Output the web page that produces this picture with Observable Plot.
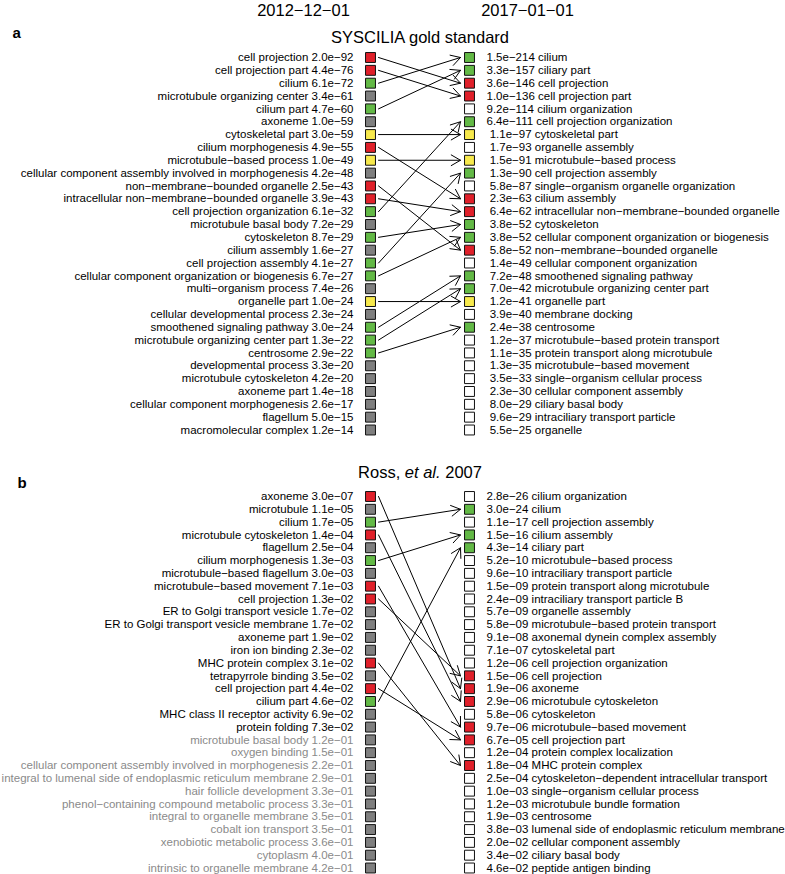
<!DOCTYPE html>
<html><head><meta charset="utf-8">
<script src="https://cdn.jsdelivr.net/npm/d3@7"></script>
<script src="https://cdn.jsdelivr.net/npm/@observablehq/plot@0.6"></script>
<style>
html,body{margin:0;padding:0;background:#fff;}
#chart{width:785px;}
#chart svg{display:block;}
#chart svg text{white-space:pre;}
</style></head><body><div id="chart"></div>
<script>
// ---------- Panel a : SYSCILIA gold standard ----------
const aLeftTerm = ["cell projection","cell projection part","cilium","microtubule organizing center","cilium part","axoneme","cytoskeletal part","cilium morphogenesis","microtubule−based process","cellular component assembly involved in morphogenesis","non−membrane−bounded organelle","intracellular non−membrane−bounded organelle","cell projection organization","microtubule basal body","cytoskeleton","cilium assembly","cell projection assembly","cellular component organization or biogenesis","multi−organism process","organelle part","cellular developmental process","smoothened signaling pathway","microtubule organizing center part","centrosome","developmental process","microtubule cytoskeleton","axoneme part","cellular component morphogenesis","flagellum","macromolecular complex"];
const aLeftP = ["2.0e−92","4.4e−76","6.1e−72","3.4e−61","4.7e−60","1.0e−59","3.0e−59","4.9e−55","1.0e−49","4.2e−48","2.5e−43","3.9e−43","6.1e−32","7.2e−29","8.7e−29","1.6e−27","4.1e−27","6.7e−27","7.4e−26","1.0e−24","2.3e−24","3.0e−24","1.3e−22","2.9e−22","3.3e−20","4.2e−20","1.4e−18","2.6e−17","5.0e−15","1.2e−14"];
const aRightTerm = ["cilium","ciliary part","cell projection","cell projection part","cilium organization","cell projection organization","cytoskeletal part","organelle assembly","microtubule−based process","cell projection assembly","single−organism organelle organization","cilium assembly","intracellular non−membrane−bounded organelle","cytoskeleton","cellular component organization or biogenesis","non−membrane−bounded organelle","cellular component organization","smoothened signaling pathway","microtubule organizing center part","organelle part","membrane docking","centrosome","microtubule−based protein transport","protein transport along microtubule","microtubule−based movement","single−organism cellular process","cellular component assembly","ciliary basal body","intraciliary transport particle","organelle"];
const aRightP = ["1.5e−214","3.3e−157","3.6e−146","1.0e−136","9.2e−114","6.4e−111","1.1e−97","1.7e−93","1.5e−91","1.3e−90","5.8e−87","2.3e−63","6.4e−62","3.8e−52","3.8e−52","5.8e−52","1.4e−49","7.2e−48","7.0e−42","1.2e−41","3.9e−40","2.4e−38","1.2e−37","1.1e−35","1.3e−35","3.5e−33","2.3e−30","8.0e−29","9.6e−29","5.5e−25"];
const aLinks = [
  ["cell projection","cell projection"],
  ["cell projection part","cell projection part"],
  ["cilium","cilium"],
  ["cilium part","ciliary part"],
  ["cytoskeletal part","cytoskeletal part"],
  ["cilium morphogenesis","cilium assembly"],
  ["microtubule−based process","microtubule−based process"],
  ["non−membrane−bounded organelle","non−membrane−bounded organelle"],
  ["intracellular non−membrane−bounded organelle","intracellular non−membrane−bounded organelle"],
  ["cell projection organization","cell projection organization"],
  ["cytoskeleton","cytoskeleton"],
  ["cell projection assembly","cell projection assembly"],
  ["cellular component organization or biogenesis","cellular component organization or biogenesis"],
  ["organelle part","organelle part"],
  ["smoothened signaling pathway","smoothened signaling pathway"],
  ["microtubule organizing center part","microtubule organizing center part"],
  ["centrosome","centrosome"]
];

// ---------- Panel b : Ross et al. 2007 ----------
const bLeftTerm = ["axoneme","microtubule","cilium","microtubule cytoskeleton","flagellum","cilium morphogenesis","microtubule−based flagellum","microtubule−based movement","cell projection","ER to Golgi transport vesicle","ER to Golgi transport vesicle membrane","axoneme part","iron ion binding","MHC protein complex","tetrapyrrole binding","cell projection part","cilium part","MHC class II receptor activity","protein folding","microtubule basal body","oxygen binding","cellular component assembly involved in morphogenesis","integral to lumenal side of endoplasmic reticulum membrane","hair follicle development","phenol−containing compound metabolic process","integral to organelle membrane","cobalt ion transport","xenobiotic metabolic process","cytoplasm","intrinsic to organelle membrane"];
const bLeftP = ["3.0e−07","1.1e−05","1.7e−05","1.4e−04","2.5e−04","1.3e−03","3.0e−03","7.1e−03","1.3e−02","1.7e−02","1.7e−02","1.9e−02","2.3e−02","3.1e−02","3.5e−02","4.4e−02","4.6e−02","6.9e−02","7.3e−02","1.2e−01","1.5e−01","2.2e−01","2.9e−01","3.3e−01","3.3e−01","3.5e−01","3.5e−01","3.6e−01","4.0e−01","4.2e−01"];
const bRightTerm = ["cilium organization","cilium","cell projection assembly","cilium assembly","ciliary part","microtubule−based process","intraciliary transport particle","protein transport along microtubule","intraciliary transport particle B","organelle assembly","microtubule−based protein transport","axonemal dynein complex assembly","cytoskeletal part","cell projection organization","cell projection","axoneme","microtubule cytoskeleton","cytoskeleton","microtubule−based movement","cell projection part","protein complex localization","MHC protein complex","cytoskeleton−dependent intracellular transport","single−organism cellular process","microtubule bundle formation","centrosome","lumenal side of endoplasmic reticulum membrane","cellular component assembly","ciliary basal body","peptide antigen binding"];
const bRightP = ["2.8e−26","3.0e−24","1.1e−17","1.5e−16","4.3e−14","5.2e−10","9.6e−10","1.5e−09","2.4e−09","5.7e−09","5.8e−09","9.1e−08","7.1e−07","1.2e−06","1.5e−06","1.9e−06","2.9e−06","5.8e−06","9.7e−06","6.7e−05","1.2e−04","1.8e−04","2.5e−04","1.0e−03","1.2e−03","1.9e−03","3.8e−03","2.0e−02","3.4e−02","4.6e−02"];
const bLinks = [
  ["axoneme","axoneme"],
  ["cilium","cilium"],
  ["microtubule cytoskeleton","microtubule cytoskeleton"],
  ["cilium morphogenesis","cilium assembly"],
  ["microtubule−based movement","microtubule−based movement"],
  ["cell projection","cell projection"],
  ["MHC protein complex","MHC protein complex"],
  ["cell projection part","cell projection part"],
  ["cilium part","ciliary part"]
];

const dates = ["2012−12−01","2017−01−01"];
const titles = ["SYSCILIA gold standard","Ross, et al. 2007"];
const letters = ["a","b"];

const FONT = "'Liberation Sans', Arial, Helvetica, sans-serif";
const statusColors = {type:"ordinal", domain:["up","down","same","gone","new"], range:["#63b946","#e0202a","#f7e94c","#7f7f7f","#ffffff"]};
const num = s => +s.replace("−","-");

function panel({leftTerm,leftP,rightTerm,rightP,links,title,letter,height,yRange,titleDy,letterDx,letterDy,withDates}) {
  const L = links.map(([l,r]) => ({from: leftTerm.indexOf(l)+1, to: rightTerm.indexOf(r)+1}));
  const st = k => k.to < k.from ? "up" : k.to > k.from ? "down" : "same";
  const left = leftTerm.map((t,i) => {
    const k = L.find(d => d.from === i+1);
    return {rank:i+1, label:`${t} ${leftP[i]}`, status: k ? st(k) : "gone", faded: num(leftP[i]) >= 0.1};
  });
  const w = d3.max(rightP, s => s.length);
  const right = rightTerm.map((t,i) => {
    const k = L.find(d => d.to === i+1);
    return {rank:i+1, label:`${rightP[i].padStart(w," ")} ${t}`, status: k ? st(k) : "new"};
  });
  const marks = [
    Plot.arrow(L, {x1:0.081, x2:0.909, y1:"from", y2:"to", stroke:"black", strokeWidth:1, headLength:16, headAngle:60}),
    Plot.dot(left, {x:0, y:"rank", symbol:"square", r:5.6, fill:"status", stroke:"#111", strokeWidth:1}),
    Plot.dot(right, {x:1, y:"rank", symbol:"square", r:5.6, fill:"status", stroke:"#111", strokeWidth:1}),
    Plot.text(left.filter(d => !d.faded), {x:0, y:"rank", text:"label", textAnchor:"end", dx:-17, fill:"black", fontSize:11.5}),
    Plot.text(left.filter(d => d.faded), {x:0, y:"rank", text:"label", textAnchor:"end", dx:-17, fill:"#8a8a8a", fontSize:11.5}),
    Plot.text(right, {x:1, y:"rank", text:"label", textAnchor:"start", dx:17, fill:"black", fontSize:11.5}),
    Plot.text([title], {x:0.5, frameAnchor:"top", lineAnchor:"middle", dy:titleDy, fontSize:16.5, fill:"black"}),
    Plot.text([letter], {frameAnchor:"top-left", lineAnchor:"middle", dx:letterDx, dy:letterDy, textAnchor:"start", fontSize:15, fontWeight:"bold", fill:"black"})
  ];
  if (withDates) {
    marks.push(Plot.text([dates[0]], {x:0, frameAnchor:"top", lineAnchor:"middle", dx:-67, dy:10, fontSize:16.5, fill:"black"}));
    marks.push(Plot.text([dates[1]], {x:1, frameAnchor:"top", lineAnchor:"middle", dx:58, dy:10, fontSize:16.5, fill:"black"}));
  }
  return Plot.plot({
    width:785, height, margin:0,
    x:{domain:[0,1], range:[370,469], axis:null},
    y:{domain:[1,leftTerm.length], range:yRange, axis:null},
    color:statusColors,
    style:{fontFamily:FONT, fontSize:"11.5px", background:"white", color:"black"},
    marks
  });
}

const chart = document.getElementById("chart");
chart.append(panel({leftTerm:aLeftTerm,leftP:aLeftP,rightTerm:aRightTerm,rightP:aRightP,links:aLinks,
  title:titles[0], letter:letters[0], height:440, yRange:[57,429.5], titleDy:37, letterDx:12, letterDy:33, withDates:true}));
const pb = panel({leftTerm:bLeftTerm,leftP:bLeftP,rightTerm:bRightTerm,rightP:bRightP,links:bLinks,
  title:titles[1], letter:letters[1], height:434, yRange:[56,427.5], titleDy:32, letterDx:17, letterDy:43, withDates:false});
chart.append(pb);
// italicise "et al." in the panel b title
d3.select(pb).selectAll("text").filter(function(){ return this.textContent === titles[1]; }).each(function(){
  const t = d3.select(this).text(null);
  t.append("tspan").text("Ross, ");
  t.append("tspan").attr("font-style","italic").text("et al.");
  t.append("tspan").text(" 2007");
});
</script></body></html>
